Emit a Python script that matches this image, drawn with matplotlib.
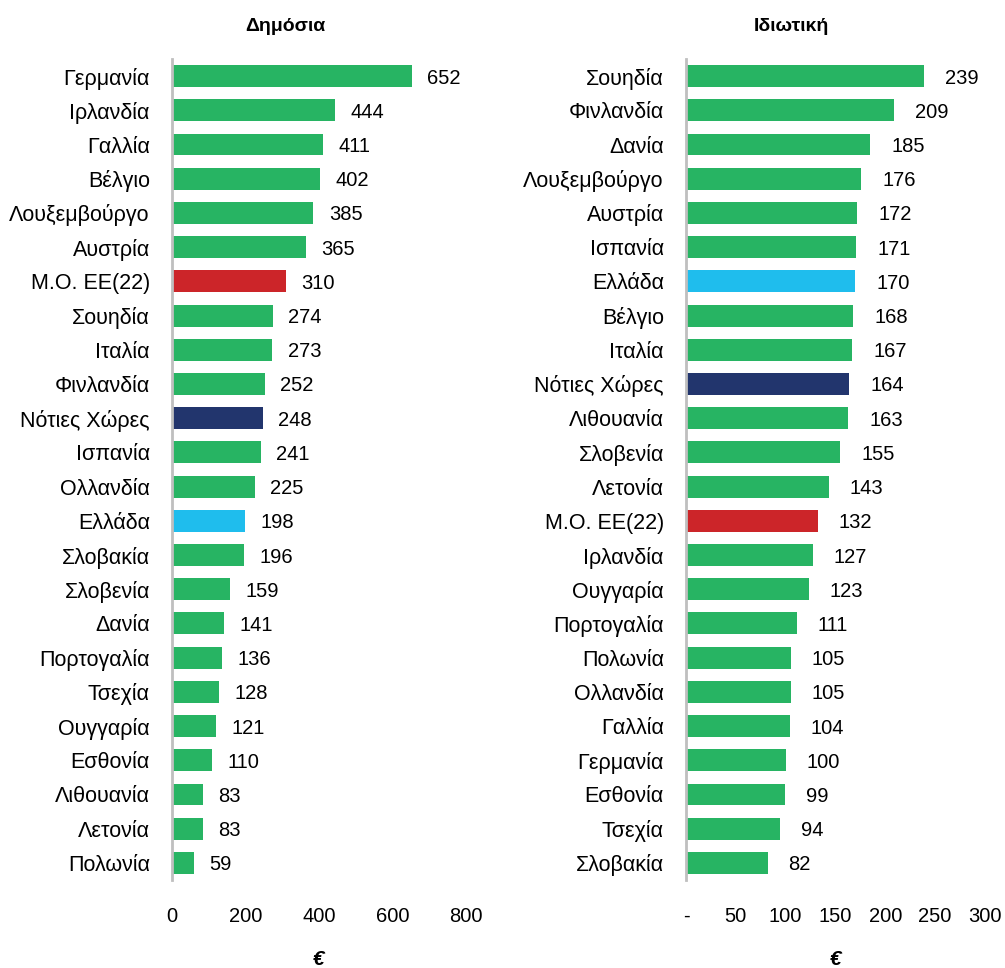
import matplotlib
matplotlib.use("Agg")
import matplotlib.pyplot as plt
from matplotlib.ticker import FixedLocator, FixedFormatter

plt.rcParams['font.family'] = ['Liberation Sans', 'DejaVu Sans']

# public spending (left panel)
pub_names = ["Γερμανία", "Ιρλανδία", "Γαλλία", "Βέλγιο", "Λουξεμβούργο", "Αυστρία",
             "Μ.Ο. ΕΕ(22)", "Σουηδία", "Ιταλία", "Φινλανδία", "Νότιες Χώρες",
             "Ισπανία", "Ολλανδία", "Ελλάδα", "Σλοβακία", "Σλοβενία", "Δανία",
             "Πορτογαλία", "Τσεχία", "Ουγγαρία", "Εσθονία", "Λιθουανία",
             "Λετονία", "Πολωνία"]
pub_vals = [652, 444, 411, 402, 385, 365, 310, 274, 273, 252, 248, 241, 225,
            198, 196, 159, 141, 136, 128, 121, 110, 83, 83, 59]

# private spending (right panel)
priv_names = ["Σουηδία", "Φινλανδία", "Δανία", "Λουξεμβούργο", "Αυστρία",
              "Ισπανία", "Ελλάδα", "Βέλγιο", "Ιταλία", "Νότιες Χώρες",
              "Λιθουανία", "Σλοβενία", "Λετονία", "Μ.Ο. ΕΕ(22)", "Ιρλανδία",
              "Ουγγαρία", "Πορτογαλία", "Πολωνία", "Ολλανδία", "Γαλλία",
              "Γερμανία", "Εσθονία", "Τσεχία", "Σλοβακία"]
priv_vals = [239, 209, 185, 176, 172, 171, 170, 168, 167, 164, 163, 155, 143,
             132, 127, 123, 111, 105, 105, 104, 100, 99, 94, 82]

pub_ticks = [0, 200, 400, 600, 800]
priv_ticks = [0, 50, 100, 150, 200, 250, 300]
priv_ticklabels = ["-", "50", "100", "150", "200", "250", "300"]

GREEN = "#27B463"
special = {"Μ.Ο. ΕΕ(22)": "#CC2529", "Νότιες Χώρες": "#22356D", "Ελλάδα": "#1FBDED"}

fig = plt.figure(figsize=(10.05, 9.68), dpi=100)
ax1 = fig.add_axes([172 / 1005, 88 / 968, 294 / 1005, 821 / 968])
ax2 = fig.add_axes([686 / 1005, 88 / 968, 299 / 1005, 821 / 968])


def draw(ax, names, vals, ticks, ticklabels, xmax, title, title_x, off):
    y = list(range(len(names)))
    colors = [special.get(n, GREEN) for n in names]
    ax.barh(y, vals, height=0.64, color=colors)
    for yi, v in zip(y, vals):
        ax.annotate(str(v), (v, yi), xytext=(off, 0), textcoords="offset points",
                    va="center_baseline", ha="left", fontsize=14.5)
    ax.set_ylim(len(names) - 0.5, -0.5)
    ax.set_xlim(0, xmax)
    ax.set_yticks(y)
    ax.set_yticklabels(names, fontsize=15.5)
    ax.xaxis.set_major_locator(FixedLocator(ticks))
    ax.xaxis.set_major_formatter(FixedFormatter(ticklabels))
    ax.tick_params(axis="x", length=0, pad=19.5, labelsize=14.5)
    ax.tick_params(axis="y", length=0, pad=16)
    for s in ["top", "right", "bottom"]:
        ax.spines[s].set_visible(False)
    ax.spines["left"].set_color("#BFBFBF")
    ax.spines["left"].set_linewidth(2)
    ax.set_title(title, fontsize=14, fontweight="bold", pad=20, x=title_x)
    ax.set_xlabel("€", fontsize=15, fontweight="bold", style="italic", labelpad=17)


draw(ax1, pub_names, pub_vals, pub_ticks, [str(t) for t in pub_ticks], 800,
     "Δημόσια", 0.384, 11)
draw(ax2, priv_names, priv_vals, priv_ticks, priv_ticklabels, 300,
     "Ιδιωτική", 0.351, 15)

fig.savefig("out.png", dpi=100)
